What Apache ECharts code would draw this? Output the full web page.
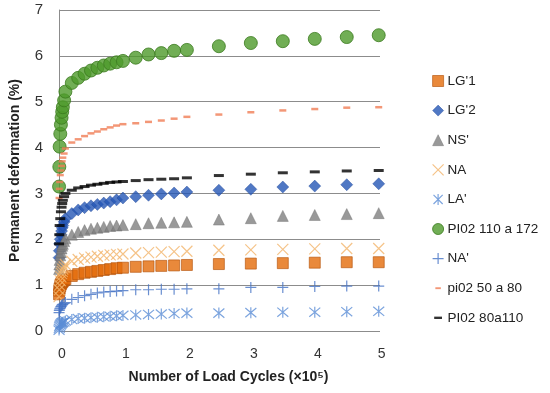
<!DOCTYPE html>
<html>
<head>
<meta charset="utf-8">
<script src="https://cdn.jsdelivr.net/npm/echarts@6/dist/echarts.min.js"></script>
<style>html,body{margin:0;padding:0;background:#fff}#c{width:550px;height:393px}</style>
</head>
<body>
<div id="c"></div>
<script>
// Load cycles (x10^5)
var cycles = [0.001, 0.005, 0.01, 0.02, 0.03, 0.04, 0.05, 0.06, 0.08, 0.1, 0.2, 0.3, 0.4, 0.5, 0.6, 0.7, 0.8, 0.9, 1.0, 1.2, 1.4, 1.6, 1.8, 2.0, 2.5, 3.0, 3.5, 4.0, 4.5, 5.0];
var seriesNames = ["LG'1", "LG'2", "NS'", "NA", "LA'", "PI02 110 a 172", "NA'", "pi02 50 a 80", "PI02 80a110"];
var lg1 = [0.8, 0.88, 0.93, 0.98, 1.02, 1.05, 1.07, 1.09, 1.11, 1.13, 1.2, 1.24, 1.27, 1.29, 1.31, 1.33, 1.35, 1.37, 1.38, 1.4, 1.41, 1.42, 1.43, 1.44, 1.46, 1.47, 1.48, 1.49, 1.5, 1.5];
var lg2 = [1.6, 1.75, 1.9, 2.0, 2.1, 2.18, 2.25, 2.3, 2.38, 2.45, 2.56, 2.64, 2.69, 2.73, 2.76, 2.79, 2.82, 2.86, 2.9, 2.93, 2.96, 2.99, 3.01, 3.03, 3.07, 3.09, 3.14, 3.16, 3.19, 3.21];
var ns = [1.35, 1.45, 1.55, 1.65, 1.72, 1.8, 1.86, 1.9, 1.96, 2.02, 2.1, 2.16, 2.2, 2.23, 2.25, 2.27, 2.29, 2.3, 2.31, 2.33, 2.35, 2.36, 2.37, 2.38, 2.43, 2.46, 2.51, 2.53, 2.55, 2.57];
var na = [0.75, 0.9, 1.0, 1.1, 1.18, 1.25, 1.3, 1.35, 1.4, 1.45, 1.52, 1.56, 1.59, 1.61, 1.63, 1.65, 1.66, 1.67, 1.68, 1.7, 1.71, 1.72, 1.73, 1.74, 1.76, 1.77, 1.78, 1.79, 1.8, 1.8];
var la = [0.02, 0.06, 0.1, 0.13, 0.15, 0.17, 0.18, 0.19, 0.2, 0.22, 0.25, 0.27, 0.28, 0.29, 0.3, 0.31, 0.32, 0.33, 0.34, 0.35, 0.36, 0.37, 0.38, 0.39, 0.39, 0.4, 0.41, 0.41, 0.42, 0.43];
var pi110 = [3.15, 3.58, 4.02, 4.3, 4.5, 4.65, 4.78, 4.88, 5.03, 5.22, 5.41, 5.52, 5.61, 5.68, 5.74, 5.79, 5.83, 5.86, 5.89, 5.96, 6.03, 6.06, 6.11, 6.13, 6.21, 6.28, 6.32, 6.37, 6.41, 6.45];
var naP = [0.4, 0.45, 0.48, 0.5, 0.53, 0.55, 0.57, 0.58, 0.6, 0.62, 0.69, 0.73, 0.77, 0.8, 0.83, 0.85, 0.86, 0.87, 0.88, 0.9, 0.9, 0.91, 0.91, 0.92, 0.92, 0.95, 0.95, 0.97, 0.98, 0.98];
var pi50 = [2.9, 3.1, 3.25, 3.4, 3.5, 3.6, 3.7, 3.78, 3.87, 3.98, 4.11, 4.18, 4.25, 4.31, 4.35, 4.4, 4.44, 4.48, 4.51, 4.53, 4.56, 4.59, 4.63, 4.67, 4.72, 4.77, 4.81, 4.84, 4.87, 4.88];
var pi80 = [1.9, 2.1, 2.3, 2.45, 2.6, 2.7, 2.78, 2.85, 2.93, 3.0, 3.07, 3.12, 3.15, 3.18, 3.2, 3.22, 3.24, 3.25, 3.26, 3.28, 3.3, 3.31, 3.32, 3.34, 3.39, 3.42, 3.45, 3.47, 3.49, 3.5];
var yTicks = [0, 1, 2, 3, 4, 5, 6, 7];
var xTicks = [0, 1, 2, 3, 4, 5];

function pts(arr){ return cycles.map(function(x,i){ return [x, arr[i]]; }); }

var P_X = 'path://M0,0 L10,10 M10,0 L0,10';
var P_AST = 'path://M0,0 L10,10 M10,0 L0,10 M5,-1 L5,11';
var P_PLUS = 'path://M5,0 L5,10 M0,5 L10,5';
var P_DASH_O = 'path://M0,0 M14,14 M3.5,5.8 L10.5,5.8 L10.5,8.2 L3.5,8.2 Z';
var P_DASH_K = 'path://M0,0 M14,14 M2,5.5 L12,5.5 L12,8.5 L2,8.5 Z';

var defs = [
  {d: lg1, symbol: 'rect', size: 11, style: {color: '#E46C0A', borderColor: '#B4520A', borderWidth: 0.8}, icon: 'rect'},
  {d: lg2, symbol: 'diamond', size: 12, style: {color: '#2456B5', borderColor: '#1B4496', borderWidth: 0.5}, icon: 'diamond'},
  {d: ns, symbol: 'triangle', size: 11, style: {color: '#7F7F7F', borderColor: '#6A6A6A', borderWidth: 0.5}, icon: 'triangle'},
  {d: na, symbol: P_X, size: 11, style: {color: 'rgba(0,0,0,0)', borderColor: '#F2B46A', borderWidth: 1.2}, icon: P_X},
  {d: la, symbol: P_AST, size: 11, style: {color: 'rgba(0,0,0,0)', borderColor: '#5B8DD6', borderWidth: 1.2}, icon: P_AST},
  {d: pi110, symbol: 'circle', size: 13, style: {color: '#4E9A2A', borderColor: '#3B7A1E', borderWidth: 1}, icon: 'circle'},
  {d: naP, symbol: P_PLUS, size: 11, style: {color: 'rgba(0,0,0,0)', borderColor: '#4472C4', borderWidth: 1.2}, icon: P_PLUS},
  {d: pi50, symbol: 'rect', size: [7, 2.5], style: {color: '#F07D55'}, icon: P_DASH_O},
  {d: pi80, symbol: 'rect', size: [10, 3], style: {color: '#000000'}, icon: P_DASH_K}
];

var series = defs.map(function(s, i){
  return {
    name: seriesNames[i], type: 'scatter', data: pts(s.d),
    symbol: s.symbol, symbolSize: s.size, symbolKeepAspect: false,
    itemStyle: s.style, emphasis: {disabled: true}, z: 2 + i
  };
});

var legendData = defs.map(function(s, i){
  return {name: seriesNames[i], icon: s.icon, itemStyle: s.style};
});

var chart = echarts.init(document.getElementById('c'), null, {renderer: 'canvas'});
chart.setOption({
  animation: false,
  backgroundColor: '#ffffff',
  textStyle: {fontFamily: 'Liberation Sans, Arial, sans-serif'},
  grid: {left: 59, right: 170, top: 10, bottom: 62, containLabel: false},
  xAxis: {
    type: 'value', min: 0, max: 5.02, splitNumber: 5,
    axisLine: {show: false}, axisTick: {show: false}, splitLine: {show: false},
    axisLabel: {
      fontSize: 14, color: '#333', margin: 16, padding: [0, 0, 0, 6],
      formatter: function(v){ return xTicks.indexOf(v) >= 0 ? String(v) : ''; }
    },
    name: 'Number of Load Cycles (\u00d710\u2075)', nameLocation: 'middle', nameGap: 39,
    nameTextStyle: {fontSize: 14, fontWeight: 'bold', color: '#222', padding: [0, 0, 0, 18]}
  },
  yAxis: {
    type: 'value', min: 0, max: 7, interval: 1,
    axisLine: {show: true, lineStyle: {color: '#8c8c8c', width: 1}},
    axisTick: {show: false},
    splitLine: {show: true, lineStyle: {color: '#8c8c8c', width: 1}},
    axisLabel: {
      fontSize: 15, color: '#333', margin: 16,
      formatter: function(v){ return yTicks.indexOf(v) >= 0 ? String(v) : ''; }
    },
    name: 'Permanent deformation (%)', nameLocation: 'middle', nameGap: 37,
    nameTextStyle: {fontSize: 14, fontWeight: 'bold', color: '#222'}
  },
  legend: {
    orient: 'vertical', left: 427, top: 69,
    itemWidth: 11, itemHeight: 11, itemGap: 15.6,
    selectedMode: false,
    textStyle: {fontSize: 13.5, color: '#222', fontFamily: 'Liberation Sans, Arial, sans-serif', padding: [0, 0, 0, -1]},
    data: legendData
  },
  series: series
});
</script>
</body>
</html>
